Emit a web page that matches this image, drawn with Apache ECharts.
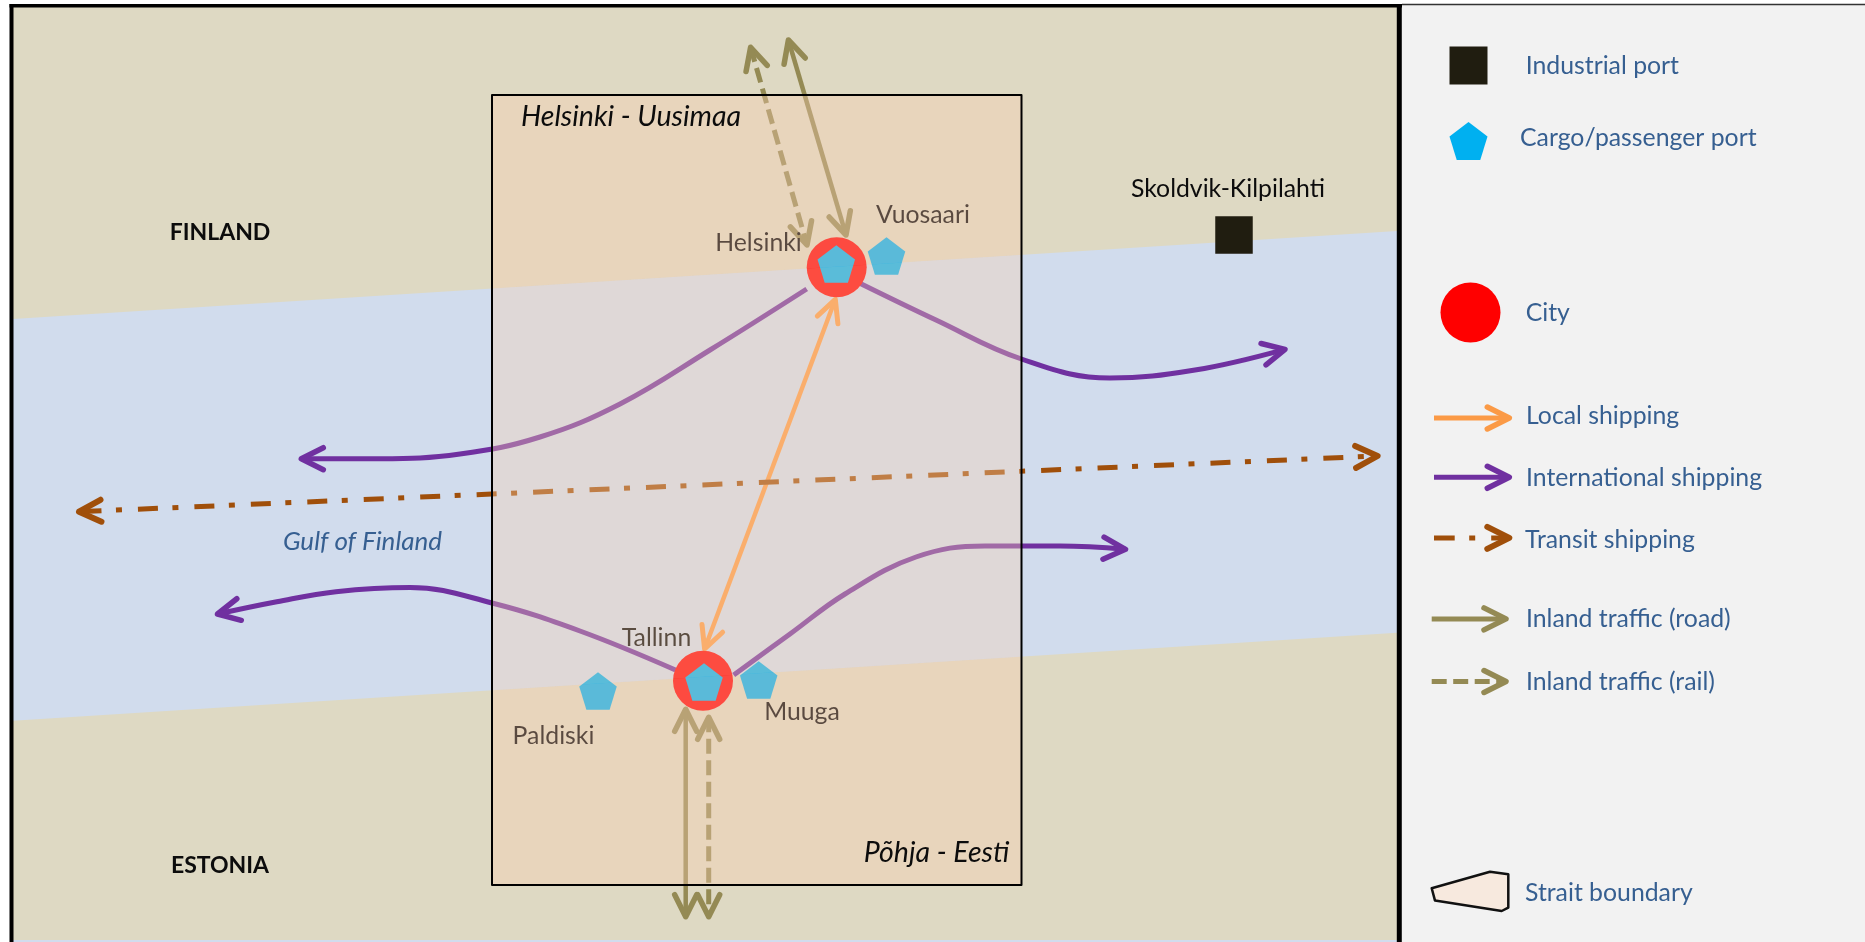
<!DOCTYPE html>
<html>
<head>
<meta charset="utf-8">
<title>Gulf of Finland strait</title>
<script src="https://cdn.jsdelivr.net/npm/echarts@6/dist/echarts.min.js"></script>
<style>
  html, body { margin: 0; padding: 0; background: #fff; }
  #main { width: 1865px; height: 942px; }
</style>
</head>
<body>
<div id="main"></div>
<script>
// map areas, in the diagram's own x/y units
const seaArea = [[13, 7], [1397, 7], [1397, 942], [13, 942]];
const landNorth = [[13, 7], [1397, 7], [1397, 231], [13, 319]];
const landSouth = [[13, 720.7], [1397, 632.7], [1397, 940], [13, 940]];
const straitBox = [[492, 95], [1021.5, 95], [1021.5, 885], [492, 885]];
const straitLandNorth = [[492, 95], [1021.5, 95], [1021.5, 254.9], [492, 288.5]];
const straitSea = [[492, 288.5], [1021.5, 254.9], [1021.5, 656.6], [492, 690.2]];
const straitLandSouth = [[492, 690.2], [1021.5, 656.6], [1021.5, 885], [492, 885]];
const legendPanel = [[1402, 5], [1865, 5], [1865, 942], [1402, 942]];
const legendStrait = [[1431.7, 888.2], [1490, 871.7], [1508.3, 874.2], [1508.3, 907.6], [1501.7, 911], [1435, 900.6]];

// places
const cities = [[836.7, 267.3], [703, 680.7]];
const cargoPorts = [[836.3, 264], [886.5, 256], [704, 682], [758.7, 680], [598, 691]];
const industrialPorts = [[1234, 235]];

// routes, last point is the arrow tip
const intlEast = [[858.8, 282.7], [936, 320], [1021.5, 359], [1109.8, 378], [1195, 370], [1285, 349.3]];
const intlWest = [[806.7, 289], [710, 350], [620, 404], [540, 437], [460, 454], [380, 458.7], [301.3, 458.7]];
const intlSouthWest = [[675.5, 670], [580, 631], [492, 603], [410, 587.5], [336, 591.7], [276.8, 601.7], [217.5, 614]];
const intlSouthEast = [[733.7, 675], [790, 634], [845, 594], [916, 557], [985, 546], [1060, 546], [1125.5, 549.3]];
const localRoute = [[704.6, 649], [835.3, 299.3]];
const transitRoute = [[79, 511.7], [1377.6, 456]];
const roadNorth = [[788.4, 40], [846, 235]];
const railNorth = [[750.6, 47.3], [807, 245]];
const roadSouth = [[685.7, 709.3], [685.7, 916.7]];
const railSouth = [[708.7, 717.3], [708.7, 916.7]];

// legend marks
const legendSquare = [[1468.5, 65.5]];
const legendPentagon = [[1468.5, 141]];
const legendCity = [[1470.5, 312.5]];
const legendLocal = [[1434, 418], [1509.3, 418]];
const legendIntl = [[1434, 477.3], [1509.3, 477.3]];
const legendTransit = [[1434, 537.9], [1509.3, 537.9]];
const legendRoad = [[1431.7, 618.9], [1506, 618.9]];
const legendRail = [[1431.7, 681.5], [1506, 681.5]];

// frame lines
const frameLeft = [[11.5, 4], [11.5, 942]];
const frameTop = [[9.5, 5.8], [1402, 5.8]];
const frameDivider = [[1399.3, 4], [1399.3, 942]];
const panelTop = [[1402, 4.5], [1865, 4.5]];

// text
const countryLabels = [["FINLAND", 220, 233], ["ESTONIA", 220, 866]];
const regionLabels = [["Helsinki - Uusimaa", 631, 117], ["Põhja - Eesti", 936.5, 853]];
const portLabels = [["Helsinki", 758.5, 243], ["Vuosaari", 923, 215], ["Tallinn", 656.5, 638], ["Muuga", 802, 712], ["Paldiski", 553.5, 736]];
const outsideLabels = [["Skoldvik-Kilpilahti", 1228, 189]];
const seaLabels = [["Gulf of Finland", 362.5, 542]];
const legendLabels = [
  ["Industrial port", 1525.7, 66],
  ["Cargo/passenger port", 1520, 138],
  ["City", 1525.7, 312.7],
  ["Local shipping", 1526, 416.4],
  ["International shipping", 1526, 478],
  ["Transit shipping", 1525, 539.6],
  ["Inland traffic (road)", 1526, 619],
  ["Inland traffic (rail)", 1526, 682],
  ["Strait boundary", 1525, 893.5],
];

const PENTAGON = "path://M50 0 L100 38 L81 100 L19 100 L0 38 Z";
const PURPLE = "#7030a0", ORANGE = "#fb9a46", BROWN = "#a04f0a", OLIVE = "#948a54", TEXT_BLUE = "#365f91";

let polygon = (points, fill, stroke, width, z) => ({
  type: "custom",
  z: z,
  coordinateSystem: "cartesian2d",
  data: [points.flat()],
  encode: { x: points.map((p, i) => i * 2), y: points.map((p, i) => i * 2 + 1) },
  renderItem: (params, api) => ({
    type: "polygon",
    shape: { points: points.map((p, i) => api.coord([api.value(i * 2), api.value(i * 2 + 1)])) },
    style: { fill: fill, stroke: stroke || null, lineWidth: width || 0, lineJoin: "round" },
  }),
});

let line = (points, color, width, z, opts) => ({
  type: "line",
  z: z,
  data: points,
  showSymbol: false,
  symbol: "none",
  smooth: opts && opts.smooth ? opts.smooth : false,
  clip: false,
  lineStyle: {
    color: color,
    width: width,
    cap: "butt",
    type: opts && opts.dash ? opts.dash : "solid",
    dashOffset: opts && opts.dashOffset ? opts.dashOffset : 0,
  },
});

// open arrow head, wings swept back from the tip
let heads = (items, color, width, z) => ({
  type: "custom",
  z: z,
  coordinateSystem: "cartesian2d",
  data: items.map((d) => [d[0][0], d[0][1], d[1][0], d[1][1]]),
  encode: { x: [0, 2], y: [1, 3] },
  renderItem: (params, api) => {
    let tip = api.coord([api.value(0), api.value(1)]);
    let prev = api.coord([api.value(2), api.value(3)]);
    let a = Math.atan2(prev[1] - tip[1], prev[0] - tip[0]);
    let wing = (s) => [
      tip[0] + 22 * Math.cos(a) - s * 11 * Math.sin(a),
      tip[1] + 22 * Math.sin(a) + s * 11 * Math.cos(a),
    ];
    return {
      type: "polyline",
      shape: { points: [wing(1), tip, wing(-1)] },
      style: { fill: null, stroke: color, lineWidth: width, lineCap: "round", lineJoin: "round" },
    };
  },
});

let endOf = (pts) => [pts[pts.length - 1], pts[pts.length - 2]];
let startOf = (pts) => [pts[0], pts[1]];

let texts = (items, font, color, align, z) => ({
  type: "custom",
  z: z,
  coordinateSystem: "cartesian2d",
  data: items.map((d) => [d[1], d[2], d[0]]),
  encode: { x: 0, y: 1 },
  renderItem: (params, api) => {
    let p = api.coord([api.value(0), api.value(1)]);
    return {
      type: "text",
      x: p[0],
      y: p[1],
      style: { text: items[params.dataIndex][0], font: font, fill: color, align: align, verticalAlign: "middle" },
    };
  },
});

let points = (data, symbol, size, color, z) => ({
  type: "scatter",
  z: z,
  data: data,
  symbol: symbol,
  symbolSize: size,
  itemStyle: { color: color, opacity: 1 },
});

const Z_ROUTE = 5, Z_PLACE = 6, Z_BOX = 8, Z_TOP = 9;
const FONT = "Lato, 'Open Sans', sans-serif";

let series = [
  polygon(seaArea, "#d1dced", null, 0, 1),
  polygon(landNorth, "#ded9c3", null, 0, 2),
  polygon(landSouth, "#ded9c3", null, 0, 2),
  polygon(legendPanel, "#f2f2f2", null, 0, 2),

  // routes sit under the translucent strait box
  line(intlEast, PURPLE, 5, Z_ROUTE, { smooth: 0.4 }),
  line(intlWest, PURPLE, 5, Z_ROUTE, { smooth: 0.4 }),
  line(intlSouthWest, PURPLE, 5, Z_ROUTE, { smooth: 0.4 }),
  line(intlSouthEast, PURPLE, 5, Z_ROUTE, { smooth: 0.4 }),
  heads([endOf(intlEast), endOf(intlWest), endOf(intlSouthWest), endOf(intlSouthEast)], PURPLE, 5.5, Z_ROUTE),
  line(localRoute, ORANGE, 4.5, Z_ROUTE),
  heads([endOf(localRoute), startOf(localRoute)], ORANGE, 5, Z_ROUTE),
  line(transitRoute, BROWN, 5, Z_ROUTE, { dash: [20, 14.5, 6, 16], dashOffset: 54 }),
  heads([endOf(transitRoute), startOf(transitRoute)], BROWN, 6, Z_ROUTE),
  line(roadNorth, OLIVE, 4.5, Z_ROUTE),
  line(roadSouth, OLIVE, 4.5, Z_ROUTE),
  heads([endOf(roadNorth), startOf(roadNorth), endOf(roadSouth), startOf(roadSouth)], OLIVE, 5.5, Z_ROUTE),
  line(railNorth, OLIVE, 5, Z_ROUTE, { dash: [15, 6.5] }),
  line(railSouth, OLIVE, 5, Z_ROUTE, { dash: [15, 6.5] }),
  heads([endOf(railNorth), startOf(railNorth), endOf(railSouth), startOf(railSouth)], OLIVE, 5.5, Z_ROUTE),

  points(cities, "circle", 60, "#ff0000", Z_PLACE),
  points(cargoPorts, PENTAGON, 37.5, "#00b0f0", Z_PLACE + 1),
  points(industrialPorts, "rect", 37.5, "#201d10", Z_PLACE),

  texts(portLabels, "400 24.8px " + FONT, "#000", "center", Z_PLACE),
  texts(outsideLabels, "400 24.8px " + FONT, "#0c0c0c", "center", Z_PLACE),
  texts(seaLabels, "italic 400 26px " + FONT, TEXT_BLUE, "center", Z_PLACE),

  // translucent box, the sea part reads a little greyer than the land parts
  polygon(straitLandNorth, "rgba(250,205,178,0.36)", null, 0, Z_BOX),
  polygon(straitSea, "rgba(250,212,178,0.36)", null, 0, Z_BOX),
  polygon(straitLandSouth, "rgba(250,205,178,0.36)", null, 0, Z_BOX),
  polygon(straitBox, "rgba(0,0,0,0)", "#000", 2, Z_BOX),

  texts(countryLabels, "700 23px " + FONT, "#0c0c0c", "center", Z_TOP),
  texts(regionLabels, "italic 400 28.5px " + FONT, "#0c0c0c", "center", Z_TOP),

  // legend
  points(legendSquare, "rect", 38, "#201d10", Z_TOP),
  points(legendPentagon, PENTAGON, 38, "#00b0f0", Z_TOP),
  points(legendCity, "circle", 60, "#ff0000", Z_TOP),
  line(legendLocal, ORANGE, 5, Z_TOP),
  heads([endOf(legendLocal)], ORANGE, 5.5, Z_TOP),
  line(legendIntl, PURPLE, 5, Z_TOP),
  heads([endOf(legendIntl)], PURPLE, 5.5, Z_TOP),
  line(legendTransit, BROWN, 5, Z_TOP, { dash: [20.7, 14.5, 6, 16] }),
  heads([endOf(legendTransit)], BROWN, 6, Z_TOP),
  line(legendRoad, OLIVE, 5, Z_TOP),
  heads([endOf(legendRoad)], OLIVE, 5.5, Z_TOP),
  line(legendRail, OLIVE, 5, Z_TOP, { dash: [15, 6.5] }),
  heads([endOf(legendRail)], OLIVE, 5.5, Z_TOP),
  polygon(legendStrait, "#f7e9de", "#111", 2.5, Z_TOP),
  texts(legendLabels, "400 24.8px " + FONT, TEXT_BLUE, "left", Z_TOP),

  // frame
  line(frameLeft, "#000", 4, Z_TOP + 1),
  line(frameTop, "#000", 3.5, Z_TOP + 1),
  line(frameDivider, "#000", 5, Z_TOP + 1),
  line(panelTop, "#333", 1.5, Z_TOP + 1),
];

let myChart = echarts.init(document.getElementById("main"));
let option = {
  backgroundColor: "#fff",
  animation: false,
  grid: { left: 0, right: 0, top: 0, bottom: 0 },
  xAxis: { type: "value", min: 0, max: 1865, show: false },
  yAxis: { type: "value", min: 0, max: 942, inverse: true, show: false },
  series: series,
};
myChart.setOption(option);
</script>
</body>
</html>
